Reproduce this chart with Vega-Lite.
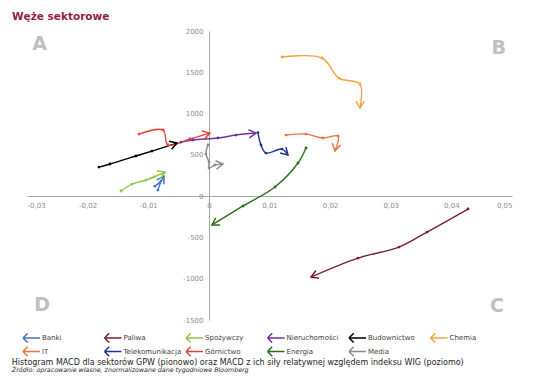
{
  "$schema": "https://vega.github.io/schema/vega-lite/v6.json",
  "width": 485,
  "height": 289,
  "autosize": "none",
  "padding": {"left": 27, "top": 31, "right": 24, "bottom": 66},
  "background": "white",
  "config": {
    "view": {"stroke": null},
    "font": "DejaVu Sans",
    "axis": {
      "grid": false,
      "ticks": false,
      "domainColor": "#a6a6a6",
      "domainWidth": 1,
      "labelColor": "#8c8c8c",
      "labelFontSize": 7,
      "labelFont": "DejaVu Sans",
      "title": null
    }
  },
  "title": {
    "text": "Węże sektorowe",
    "anchor": "start",
    "frame": "group",
    "dx": -15,
    "offset": 5,
    "fontSize": 10.5,
    "fontWeight": "bold",
    "color": "#8e2346",
    "font": "DejaVu Sans"
  },
  "datasets": {
    "paths": [
      {"s": "Banki", "i": 1, "x": -0.0084, "y": 73},
      {"s": "Banki", "i": 2, "x": -0.0081, "y": 157},
      {"s": "Banki", "i": 3, "x": -0.0089, "y": 121},
      {"s": "Banki", "i": 4, "x": -0.0079, "y": 182},
      {"s": "Banki", "i": 5, "x": -0.0074, "y": 242},
      {"s": "Paliwa", "i": 1, "x": 0.04274, "y": -156},
      {"s": "Paliwa", "i": 2, "x": 0.03598, "y": -435},
      {"s": "Paliwa", "i": 3, "x": 0.03136, "y": -617},
      {"s": "Paliwa", "i": 4, "x": 0.0246, "y": -750},
      {"s": "Paliwa", "i": 5, "x": 0.01685, "y": -980},
      {"s": "Spożywczy", "i": 1, "x": -0.0145, "y": 62},
      {"s": "Spożywczy", "i": 2, "x": -0.01267, "y": 146},
      {"s": "Spożywczy", "i": 3, "x": -0.01037, "y": 195},
      {"s": "Spożywczy", "i": 4, "x": -0.00906, "y": 232},
      {"s": "Spożywczy", "i": 5, "x": -0.00724, "y": 292},
      {"s": "Nieruchomości", "i": 1, "x": -0.0046, "y": 655},
      {"s": "Nieruchomości", "i": 2, "x": -0.00262, "y": 680},
      {"s": "Nieruchomości", "i": 3, "x": 0.0015, "y": 704},
      {"s": "Nieruchomości", "i": 4, "x": 0.00447, "y": 740},
      {"s": "Nieruchomości", "i": 5, "x": 0.00777, "y": 764},
      {"s": "Budownictwo", "i": 1, "x": -0.01813, "y": 352},
      {"s": "Budownictwo", "i": 2, "x": -0.01631, "y": 389},
      {"s": "Budownictwo", "i": 3, "x": -0.01202, "y": 486},
      {"s": "Budownictwo", "i": 4, "x": -0.00939, "y": 546},
      {"s": "Budownictwo", "i": 5, "x": -0.00526, "y": 643},
      {"s": "Chemia", "i": 1, "x": 0.01206, "y": 1685},
      {"s": "Chemia", "i": 2, "x": 0.01866, "y": 1673},
      {"s": "Chemia", "i": 3, "x": 0.02146, "y": 1430},
      {"s": "Chemia", "i": 4, "x": 0.02493, "y": 1357},
      {"s": "Chemia", "i": 5, "x": 0.02493, "y": 1067},
      {"s": "IT", "i": 1, "x": 0.01272, "y": 740},
      {"s": "IT", "i": 2, "x": 0.01602, "y": 752},
      {"s": "IT", "i": 3, "x": 0.01882, "y": 704},
      {"s": "IT", "i": 4, "x": 0.0213, "y": 728},
      {"s": "IT", "i": 5, "x": 0.0208, "y": 546},
      {"s": "Telekomunikacja", "i": 1, "x": 0.0081, "y": 770},
      {"s": "Telekomunikacja", "i": 2, "x": 0.0086, "y": 619},
      {"s": "Telekomunikacja", "i": 3, "x": 0.00942, "y": 522},
      {"s": "Telekomunikacja", "i": 4, "x": 0.01206, "y": 570},
      {"s": "Telekomunikacja", "i": 5, "x": 0.01305, "y": 498},
      {"s": "Górnictwo", "i": 1, "x": -0.01153, "y": 752},
      {"s": "Górnictwo", "i": 2, "x": -0.00757, "y": 801},
      {"s": "Górnictwo", "i": 3, "x": -0.00675, "y": 619},
      {"s": "Górnictwo", "i": 4, "x": -0.00312, "y": 692},
      {"s": "Górnictwo", "i": 5, "x": 0.00018, "y": 764},
      {"s": "Energia", "i": 1, "x": 0.01602, "y": 583},
      {"s": "Energia", "i": 2, "x": 0.0147, "y": 401},
      {"s": "Energia", "i": 3, "x": 0.01091, "y": 111},
      {"s": "Energia", "i": 4, "x": 0.00563, "y": -119},
      {"s": "Energia", "i": 5, "x": 0.00051, "y": -349},
      {"s": "Media", "i": 1, "x": -0.00015, "y": 619},
      {"s": "Media", "i": 2, "x": -0.00048, "y": 510},
      {"s": "Media", "i": 3, "x": 0.00002, "y": 413},
      {"s": "Media", "i": 4, "x": 0.00002, "y": 340},
      {"s": "Media", "i": 5, "x": 0.00101, "y": 377},
      {"s": "Media", "i": 6, "x": 0.00233, "y": 389}
    ],
    "letters": [
      {"t": "A", "x": -0.0279, "y": 1841},
      {"t": "B", "x": 0.0478, "y": 1792},
      {"t": "C", "x": 0.0475, "y": -1332},
      {"t": "D", "x": -0.0275, "y": -1320}
    ],
    "notes": [
      {"k": "main", "t": "Histogram MACD dla sektorów GPW (pionowo) oraz MACD z ich siły relatywnej względem indeksu WIG (poziomo)", "x": -0.0325, "y": -2020},
      {"k": "src", "t": "Źródło: opracowanie własne, znormalizowane dane tygodniowe Bloomberg", "x": -0.0325, "y": -2100}
    ]
  },
  "layer": [
    {
      "data": {"name": "paths"},
      "mark": {"type": "line", "strokeWidth": 1.4, "interpolate": "catmull-rom"},
      "encoding": {
        "x": {
          "field": "x", "type": "quantitative",
          "scale": {"domain": [-0.03, 0.05], "nice": false, "zero": false},
          "axis": {
            "orient": "bottom", "offset": -124, "values": [-0.03, -0.02, -0.01, 0, 0.01, 0.02, 0.03, 0.04, 0.05],
            "labelPadding": 5,
            "labelExpr": "datum.value == 0 ? '0' : replace(replace(format(datum.value, '.2f'), '.', ','), '\u2212', '-')"
          }
        },
        "y": {
          "field": "y", "type": "quantitative",
          "scale": {"domain": [-1500, 2000], "nice": false, "zero": false},
          "axis": {
            "orient": "left", "offset": -182, "values": [-1500, -1000, -500, 0, 500, 1000, 1500, 2000],
            "labelPadding": 6,
            "labelExpr": "replace(format(datum.value, 'd'), '\u2212', '-')"
          }
        },
        "order": {"field": "i", "type": "quantitative"},
        "color": {
          "field": "s", "type": "nominal",
          "scale": {
            "domain": ["Banki", "Paliwa", "Spożywczy", "Nieruchomości", "Budownictwo", "Chemia", "IT", "Telekomunikacja", "Górnictwo", "Energia", "Media"],
            "range": ["#4472c4", "#7b1f2e", "#8dc63f", "#7030a0", "#000000", "#f5a33c", "#ed7245", "#1f3299", "#e0453a", "#2d6e1e", "#8c8c8c"]
          },
          "legend": {
            "orient": "none", "legendX": -5, "legendY": 301,
            "direction": "horizontal", "columns": 6, "gridAlign": "all",
            "title": null,
            "symbolType": "M-1,0L2.78,0M-1,0L0.04,-1.04M-1,0L0.04,1.04",
            "symbolSize": 81, "symbolStrokeWidth": 1.5,
            "labelFontSize": 7, "labelFont": "DejaVu Sans", "labelColor": "#404040",
            "labelOffset": 9, "columnPadding": 1.5, "rowPadding": -4, "labelLimit": 0
          }
        }
      }
    },
    {
      "data": {"name": "paths"},
      "transform": [
        {"window": [{"op": "lead", "field": "i", "as": "ni"}], "groupby": ["s"], "sort": [{"field": "i"}]},
        {"filter": "datum.ni != null"}
      ],
      "mark": {"type": "point", "filled": true, "size": 8, "opacity": 1},
      "encoding": {
        "x": {"field": "x", "type": "quantitative"},
        "y": {"field": "y", "type": "quantitative"},
        "fill": {
          "field": "s", "type": "nominal", "legend": null,
          "scale": {
            "domain": ["Banki", "Paliwa", "Spożywczy", "Nieruchomości", "Budownictwo", "Chemia", "IT", "Telekomunikacja", "Górnictwo", "Energia", "Media"],
            "range": ["#4472c4", "#7b1f2e", "#8dc63f", "#7030a0", "#000000", "#f5a33c", "#ed7245", "#1f3299", "#e0453a", "#2d6e1e", "#8c8c8c"]
          }
        }
      }
    },
    {
      "data": {"name": "paths"},
      "transform": [
        {"window": [
          {"op": "lag", "field": "x", "as": "px"},
          {"op": "lag", "field": "y", "as": "py"},
          {"op": "lead", "field": "i", "as": "ni"}
        ], "groupby": ["s"], "sort": [{"field": "i"}]},
        {"filter": "datum.ni == null"},
        {"calculate": "atan2(-(datum.y - datum.py) * 0.08257, (datum.x - datum.px) * 6062.5) * 180 / PI", "as": "ang"}
      ],
      "mark": {"type": "point", "filled": false, "shape": "M-1,-0.6L0,0L-1,0.6", "size": 196, "strokeWidth": 1.5, "opacity": 1},
      "encoding": {
        "x": {"field": "x", "type": "quantitative"},
        "y": {"field": "y", "type": "quantitative"},
        "angle": {"field": "ang", "type": "quantitative", "scale": null},
        "stroke": {
          "field": "s", "type": "nominal", "legend": null,
          "scale": {
            "domain": ["Banki", "Paliwa", "Spożywczy", "Nieruchomości", "Budownictwo", "Chemia", "IT", "Telekomunikacja", "Górnictwo", "Energia", "Media"],
            "range": ["#4472c4", "#7b1f2e", "#8dc63f", "#7030a0", "#000000", "#f5a33c", "#ed7245", "#1f3299", "#e0453a", "#2d6e1e", "#8c8c8c"]
          }
        }
      }
    },
    {
      "data": {"name": "letters"},
      "mark": {"type": "text", "fontSize": 19, "fontWeight": "bold", "color": "#bfbfbf", "align": "center", "baseline": "middle", "font": "DejaVu Sans"},
      "encoding": {
        "x": {"field": "x", "type": "quantitative"},
        "y": {"field": "y", "type": "quantitative"},
        "text": {"field": "t"}
      }
    },
    {
      "data": {"name": "notes"},
      "transform": [{"filter": "datum.k == 'main'"}],
      "mark": {"type": "text", "fontSize": 8, "color": "#262626", "align": "left", "baseline": "middle", "font": "DejaVu Sans"},
      "encoding": {
        "x": {"field": "x", "type": "quantitative"},
        "y": {"field": "y", "type": "quantitative"},
        "text": {"field": "t"}
      }
    },
    {
      "data": {"name": "notes"},
      "transform": [{"filter": "datum.k == 'src'"}],
      "mark": {"type": "text", "fontSize": 6.3, "fontStyle": "italic", "color": "#262626", "align": "left", "baseline": "middle", "font": "DejaVu Sans"},
      "encoding": {
        "x": {"field": "x", "type": "quantitative"},
        "y": {"field": "y", "type": "quantitative"},
        "text": {"field": "t"}
      }
    }
  ]
}
